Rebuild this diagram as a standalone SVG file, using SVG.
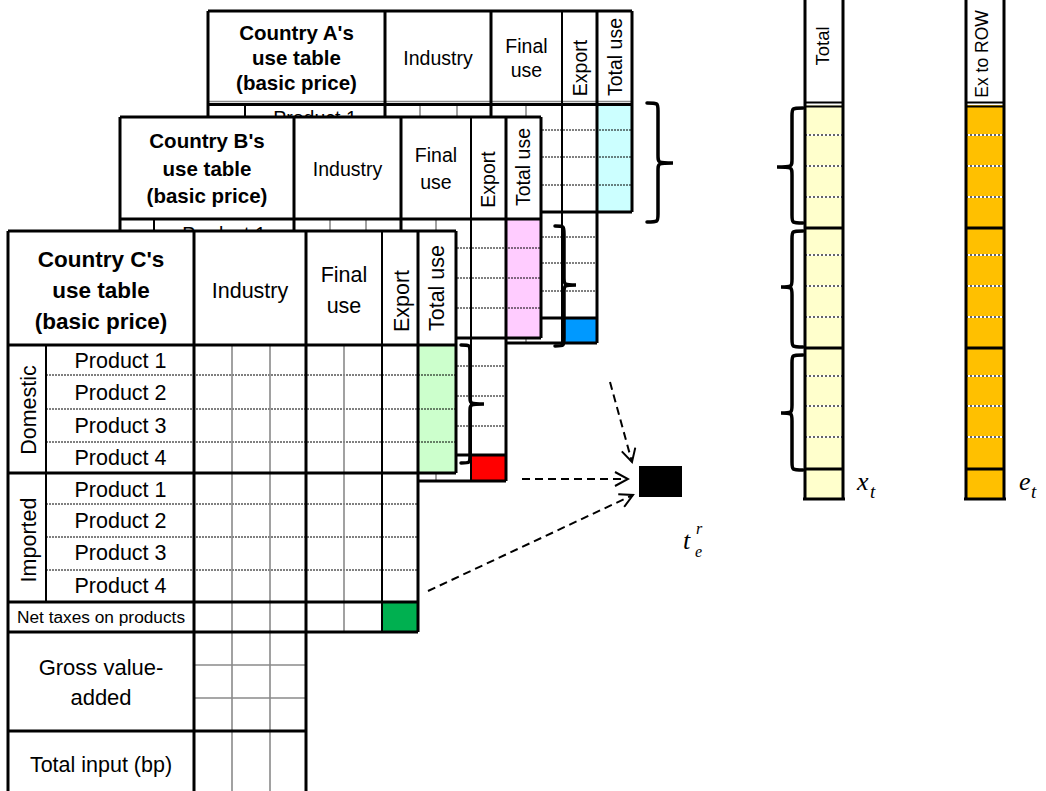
<svg xmlns="http://www.w3.org/2000/svg" width="1046" height="791" viewBox="0 0 1046 791">
<style>
.bg{fill:#fff;stroke:none}
.tk{stroke:#000;stroke-width:3;fill:none}
.md{stroke:#000;stroke-width:2;fill:none}
.dt{stroke:#000;stroke-width:1;stroke-dasharray:2 1;fill:none}
.gr{stroke:#8a8a8a;stroke-width:1.6;fill:none}
.wd{stroke:#fff;stroke-width:2;fill:none}
.bd{stroke:#333;stroke-width:1.5;stroke-dasharray:2 2;fill:none}
.br{stroke:#000;stroke-width:3.5;fill:none;stroke-linecap:round}
.t{font-family:"Liberation Sans",Arial,sans-serif;fill:#000;text-anchor:middle}
.b{font-weight:bold}
.m{font-family:"Liberation Serif","Times New Roman",serif;font-style:italic;fill:#000}
.ar{stroke:#000;stroke-width:2;stroke-dasharray:8 5;fill:none}
</style>
<defs>
<marker id="oh" markerUnits="userSpaceOnUse" viewBox="0 0 16 16" refX="14" refY="8" markerWidth="16" markerHeight="16" orient="auto">
<path d="M1,1 L14,8 L1,15" fill="none" stroke="#000" stroke-width="2"/>
</marker>
</defs>
<rect width="1046" height="791" fill="#fff"/>

<g id="tableA">
<path class="bg" d="M208,11H632V212H597V343H208Z"/>
<rect x="597" y="104" width="35" height="108" fill="#ccffff"/>
<rect x="562" y="318" width="35" height="25" fill="#0099ff"/>
<path class="dt" d="M245,130H632M245,157H632M245,185H632M245,237H597M245,263H597M245,291H597"/>
<path class="gr" d="M420,104V343M457,104V343M526,104V343M208,101.5H632"/>
<path class="tk" d="M208,11H632M208,11V343M208,104.5H632M385,11V343M491,11V343M597,11V343M632,11V212M208,212H632M208,318H597M208,343H597"/>
<path class="md" d="M562,11V343M245,104V343"/>
<text class="t b" font-size="20.5" x="296.5" y="40">Country A's</text>
<text class="t b" font-size="20.5" x="296.5" y="65">use table</text>
<text class="t b" font-size="20.5" x="296.5" y="90">(basic price)</text>
<text class="t" font-size="19.5" x="438" y="65">Industry</text>
<text class="t" font-size="19.5" x="526.5" y="53">Final</text>
<text class="t" font-size="19.5" x="526.5" y="77">use</text>
<text class="t" font-size="19.5" transform="translate(587,68) rotate(-90)">Export</text>
<text class="t" font-size="19.5" transform="translate(622,57) rotate(-90)">Total use</text>
<text class="t" font-size="19.5" x="315" y="125">Product 1</text>
</g>

<g id="tableB">
<path class="bg" d="M120,117H541V338H506V481H120Z"/>
<rect x="506" y="219" width="35" height="119" fill="#ffccff"/>
<rect x="471" y="455" width="35" height="26" fill="#ff0000"/>
<path class="dt" d="M154,248H541M154,278H541M154,308H541M154,366H506M154,396H506M154,426H506"/>
<path class="gr" d="M330,219V481M366,219V481M436,219V481"/>
<path class="tk" d="M120,117H541M120,117V481M120,219H541M294,117V481M401,117V481M506,117V481M541,117V338M120,338H541M120,455H506M120,481H506"/>
<path class="md" d="M471,117V481M154,219V481"/>
<text class="t b" font-size="20.5" x="207" y="148">Country B's</text>
<text class="t b" font-size="20.5" x="207" y="176">use table</text>
<text class="t b" font-size="20.5" x="207" y="203">(basic price)</text>
<text class="t" font-size="19.5" x="347.5" y="176">Industry</text>
<text class="t" font-size="19.5" x="436" y="162">Final</text>
<text class="t" font-size="19.5" x="436" y="189">use</text>
<text class="t" font-size="19.5" transform="translate(495,179.5) rotate(-90)">Export</text>
<text class="t" font-size="19.5" transform="translate(530,167) rotate(-90)">Total use</text>
<text class="t" font-size="19.5" x="224" y="241">Product 1</text>
</g>

<g id="tableC">
<path class="bg" d="M8,231H456V473H418V632H306V791H8Z"/>
<rect x="418" y="345" width="38" height="128" fill="#ccffcc"/>
<rect x="382" y="602" width="36" height="30" fill="#00b050"/>
<path class="dt" d="M46,375H456M46,409H456M46,442H456M46,504H418M46,537H418M46,570H418"/>
<path class="gr" d="M232,345V791M270,345V791M344,345V632M194,665H306M194,698H306"/>
<path class="tk" d="M8,231H456M8,231V791M8,345H456M194,231V791M306,231V791M418,231V632M456,231V473M8,473H456M8,602H418M8,632H418M8,731H306"/>
<path class="md" d="M382,231V632M46,345V602"/>
<text class="t b" font-size="22.5" x="101" y="267">Country C's</text>
<text class="t b" font-size="22.5" x="101" y="298">use table</text>
<text class="t b" font-size="22.5" x="101" y="329">(basic price)</text>
<text class="t" font-size="21.5" x="250" y="298">Industry</text>
<text class="t" font-size="21.5" x="344" y="282">Final</text>
<text class="t" font-size="21.5" x="344" y="313">use</text>
<text class="t" font-size="21.5" transform="translate(409,301) rotate(-90)">Export</text>
<text class="t" font-size="21.5" transform="translate(444,288) rotate(-90)">Total use</text>
<text class="t" font-size="21.5" transform="translate(36,410) rotate(-90)">Domestic</text>
<text class="t" font-size="21.5" transform="translate(36,540) rotate(-90)">Imported</text>
<text class="t" font-size="21.5" x="120.5" y="368">Product 1</text>
<text class="t" font-size="21.5" x="120.5" y="400">Product 2</text>
<text class="t" font-size="21.5" x="120.5" y="433">Product 3</text>
<text class="t" font-size="21.5" x="120.5" y="465">Product 4</text>
<text class="t" font-size="21.5" x="120.5" y="497">Product 1</text>
<text class="t" font-size="21.5" x="120.5" y="528">Product 2</text>
<text class="t" font-size="21.5" x="120.5" y="560">Product 3</text>
<text class="t" font-size="21.5" x="120.5" y="593">Product 4</text>
<text class="t" font-size="17.3" x="101" y="623">Net taxes on products</text>
<text class="t" font-size="22" x="101" y="675">Gross value-</text>
<text class="t" font-size="22" x="101" y="705">added</text>
<text class="t" font-size="21.5" x="101" y="772">Total input (bp)</text>
</g>

<g id="braces">
<path class="br" d="M647,103C658,103 658,103 658,111L658,155C658,163 658,163 673,163C658,163 658,163 658,171L658,214C658,222 658,222 647,222"/>
<path class="br" d="M555,226C564,226 564,226 564,234L564,277C564,285 564,285 576,285C564,285 564,285 564,293L564,338C564,346 564,346 555,346"/>
<path class="br" d="M461,345C470,345 470,345 470,353L470,396C470,404 470,404 484,404C470,404 470,404 470,412L470,455C470,463 470,463 461,463"/>
<path class="br" d="M803,108C792,108 792,108 792,116L792,159C792,167 792,167 777,167C792,167 792,167 792,175L792,215C792,223 792,223 803,223"/>
<path class="br" d="M803,231C792,231 792,231 792,239L792,279C792,287 792,287 781,287C792,287 792,287 792,295L792,339C792,347 792,347 803,347"/>
<path class="br" d="M803,355C792,355 792,355 792,363L792,405C792,413 792,413 781,413C792,413 792,413 792,421L792,462C792,470 792,470 803,470"/>
</g>

<g id="totalColumn">
<rect x="805" y="105" width="38" height="394" fill="#ffffcc"/>
<path class="wd" d="M805,135H843M805,166H843M805,197H843M805,255H843M805,286H843M805,317H843M805,376H843M805,406H843M805,437H843"/>
<path class="bd" d="M805,135H843M805,166H843M805,197H843M805,255H843M805,286H843M805,317H843M805,376H843M805,406H843M805,437H843"/>
<path class="md" d="M805,102.5H843M805,106.5H843"/>
<path class="tk" d="M805,-2V499M843,-2V499M805,228H843M805,348H843M805,469H843M803,499H845"/>
<text class="t" font-size="18.5" transform="translate(829,46) rotate(-90)">Total</text>
<text class="m" font-size="26" x="857" y="490">x</text>
<text class="m" font-size="19" x="870" y="498">t</text>
</g>

<g id="exportColumn">
<rect x="966" y="105" width="38" height="394" fill="#ffc000"/>
<path class="wd" d="M966,135H1004M966,166H1004M966,197H1004M966,255H1004M966,286H1004M966,317H1004M966,376H1004M966,406H1004M966,437H1004"/>
<path class="bd" d="M966,135H1004M966,166H1004M966,197H1004M966,255H1004M966,286H1004M966,317H1004M966,376H1004M966,406H1004M966,437H1004"/>
<path class="md" d="M966,102.5H1004M966,106.5H1004"/>
<path class="tk" d="M966,-2V499M1004,-2V499M966,228H1004M966,348H1004M966,469H1004M964,499H1006"/>
<text class="t" font-size="17.5" transform="translate(988,54) rotate(-90)">Ex to ROW</text>
<text class="m" font-size="26" x="1019" y="490">e</text>
<text class="m" font-size="19" x="1031" y="498">t</text>
</g>

<g id="result">
<rect x="639" y="466" width="43" height="31" fill="#000"/>
<text class="m" font-size="26" x="683" y="549">t</text>
<text class="m" font-size="16" x="696" y="534">r</text>
<text class="m" font-size="16" x="695" y="557">e</text>
</g>

<g id="connectors">
<path class="ar" d="M610,382L632,462" marker-end="url(#oh)"/>
<path class="ar" d="M522,479L628,479" marker-end="url(#oh)"/>
<path class="ar" d="M428,591L633,495" marker-end="url(#oh)"/>
</g>
</svg>
